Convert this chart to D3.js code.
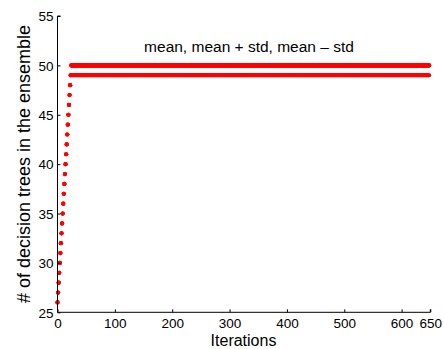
<!DOCTYPE html>
<html>
<head>
<meta charset="utf-8">
<script src="https://cdn.jsdelivr.net/npm/d3@7"></script>
<style>
  html, body { margin: 0; padding: 0; background: #fff; }
  svg { display: block; font-family: "Liberation Sans", Arial, Helvetica, sans-serif; }
</style>
</head>
<body>
<svg id="chart" width="444" height="349"></svg>
<script>
// Ensemble growth: tree count per iteration (mean, mean + std, mean - std).
// During the ramp all three curves coincide (std = 0).
const rampValues = [26, 27, 28, 29, 30, 31, 32, 33, 34, 35, 36, 37,
                    38, 39, 40, 41, 42, 43, 44, 45, 46, 47, 48];
// Plateau levels reached after the ramp, with the first iteration of each.
const plateauSeries = [
  { name: "mean",       start: 24, value: 50 },
  { name: "mean + std", start: 24, value: 50 },
  { name: "mean - std", start: 23, value: 49 }
];
const lastIteration = 648;

const xTicks = [0, 100, 200, 300, 400, 500, 600, 650];
const yTicks = [25, 30, 35, 40, 45, 50, 55];
const xDomain = [0, 650];
const yDomain = [25, 55];

const legendText = "mean, mean + std, mean \u2013 std";
const xLabel = "Iterations";
const yLabel = "# of decision trees in the ensemble";

// Build point lists for every series.
const points = [];
plateauSeries.forEach(s => {
  rampValues.forEach((v, i) => points.push({ x: i, y: v }));
  for (let it = rampValues.length; it <= lastIteration; it++) {
    if (it >= s.start) points.push({ x: it, y: s.value });
    else points.push({ x: it, y: rampValues[rampValues.length - 1] + (it - rampValues.length + 1) });
  }
});

const svg = d3.select("#chart");

const x = d3.scaleLinear().domain(xDomain).range([57.5, 430.3]);
const y = d3.scaleLinear().domain(yDomain).range([312.3, 16]);

// Dots
svg.append("g")
  .selectAll("circle")
  .data(points)
  .join("circle")
  .attr("cx", d => x(d.x))
  .attr("cy", d => y(d.y))
  .attr("r", 2.1)
  .attr("fill", "#ff0000");

// Axes (ticks drawn inward)
const xAxis = d3.axisBottom(x).tickValues(xTicks).tickSizeInner(-3).tickSizeOuter(0).tickPadding(6.5);
const yAxis = d3.axisLeft(y).tickValues(yTicks).tickSizeInner(-3).tickSizeOuter(0).tickPadding(4);

const gx = svg.append("g").attr("transform", `translate(0,${y(yDomain[0])})`).call(xAxis);
const gy = svg.append("g").attr("transform", `translate(${x(xDomain[0])},0)`).call(yAxis);

[gx, gy].forEach(g => {
  g.select(".domain").attr("stroke", "#000").attr("stroke-width", 1);
  g.selectAll(".tick line").attr("stroke", "#000");
  g.selectAll(".tick text")
    .attr("fill", "#000")
    .style("font-size", "13.5px")
    .style("font-family", "'Liberation Sans', Arial, sans-serif");
});
gx.selectAll(".tick text").attr("dy", "0.71em");
gy.selectAll(".tick text").attr("dy", "0.35em");

// Domain lines spanning the full axis extents
gx.select(".domain").attr("d", `M${x(xDomain[0])},0H${x(xDomain[1])}V-3`);
gy.select(".domain").attr("d", `M3,${y(yDomain[1])}H0V${y(yDomain[0])}`);

// Legend text
svg.append("text")
  .attr("x", 249)
  .attr("y", 52)
  .attr("text-anchor", "middle")
  .style("font-size", "15.5px")
  .text(legendText);

// Axis labels
svg.append("text")
  .attr("x", 243.5)
  .attr("y", 345.5)
  .attr("text-anchor", "middle")
  .style("font-size", "16px")
  .text(xLabel);

svg.append("text")
  .attr("transform", `translate(30,164) rotate(-90)`)
  .attr("text-anchor", "middle")
  .style("font-size", "18px")
  .text(yLabel);
</script>
</body>
</html>
